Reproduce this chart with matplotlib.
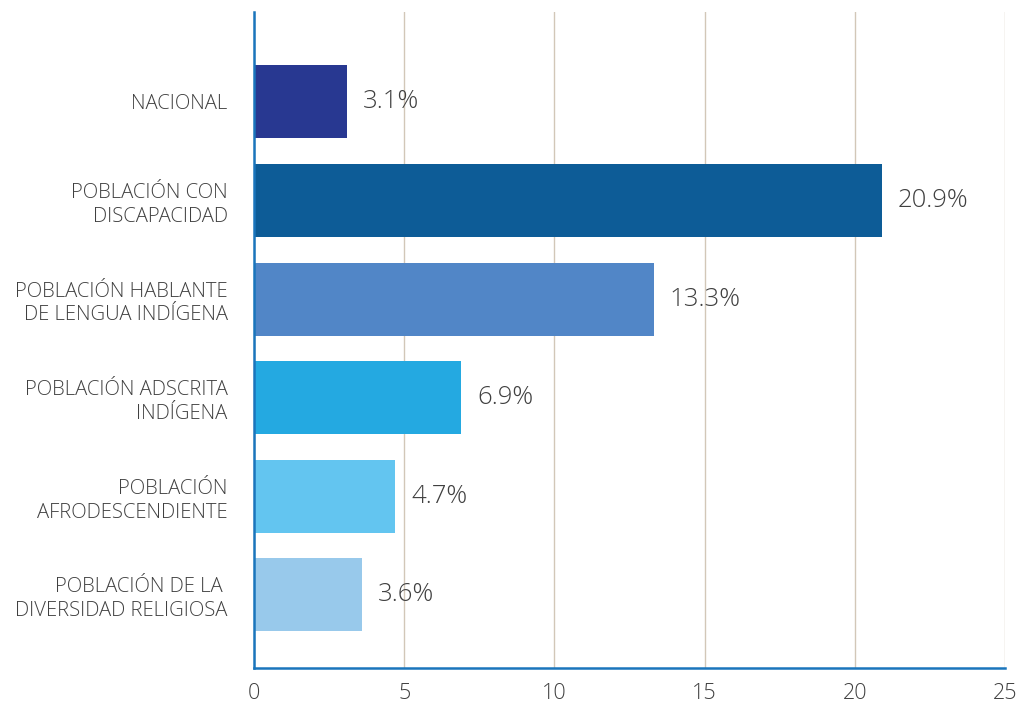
import matplotlib.pyplot as plt

plt.rcParams['font.family'] = ['Open Sans', 'DejaVu Sans']

# Data
categories = ['NACIONAL', 'POBLACIÓN CON\nDISCAPACIDAD', 'POBLACIÓN HABLANTE\nDE LENGUA INDÍGENA',
              'POBLACIÓN ADSCRITA\nINDÍGENA', 'POBLACIÓN\nAFRODESCENDIENTE',
              'POBLACIÓN DE LA \nDIVERSIDAD RELIGIOSA']
values = [3.1, 20.9, 13.3, 6.9, 4.7, 3.6]
value_labels = ['3.1%', '20.9%', '13.3%', '6.9%', '4.7%', '3.6%']
x_ticks = [0, 5, 10, 15, 20, 25]

bar_colors = ['#283891', '#0d5c97', '#5186c7', '#24a9e1', '#63c5f0', '#98c9eb']
axis_color = '#1a75bc'
grid_color = '#d2c7b8'
text_color = '#404040'

fig = plt.figure(figsize=(10.19, 7.07), dpi=100)
ax = fig.add_axes([0.2493, 0.0552, 0.737, 0.9278])

y = list(range(len(categories)))
ax.barh(y, values, height=0.74, color=bar_colors, zorder=3)

for yi, v, lab in zip(y, values, value_labels):
    ax.annotate(lab, (v, yi), xytext=(11.5, 0), textcoords='offset points',
                va='center', ha='left', fontsize=18.5, color=text_color, fontweight='light')

ax.set_xlim(0, 25)
ax.set_ylim(5.74, -0.91)
ax.set_xticks(x_ticks)
ax.set_xticklabels([str(t) for t in x_ticks], fontsize=15.5, color=text_color, fontweight='light')
ax.set_yticks(y)
ax.set_yticklabels(categories, fontsize=14.6, color=text_color, fontweight='light',
                   linespacing=1.25)
ax.tick_params(axis='both', length=0)
ax.tick_params(axis='y', pad=19)
ax.tick_params(axis='x', pad=11)

ax.grid(True, axis='x', color=grid_color, linewidth=1.0, zorder=0)
for s in ['top', 'right']:
    ax.spines[s].set_visible(False)
for s in ['left', 'bottom']:
    ax.spines[s].set_color(axis_color)
    ax.spines[s].set_linewidth(1.8)
    ax.spines[s].set_zorder(4)

fig.savefig('out.png', dpi=100)
